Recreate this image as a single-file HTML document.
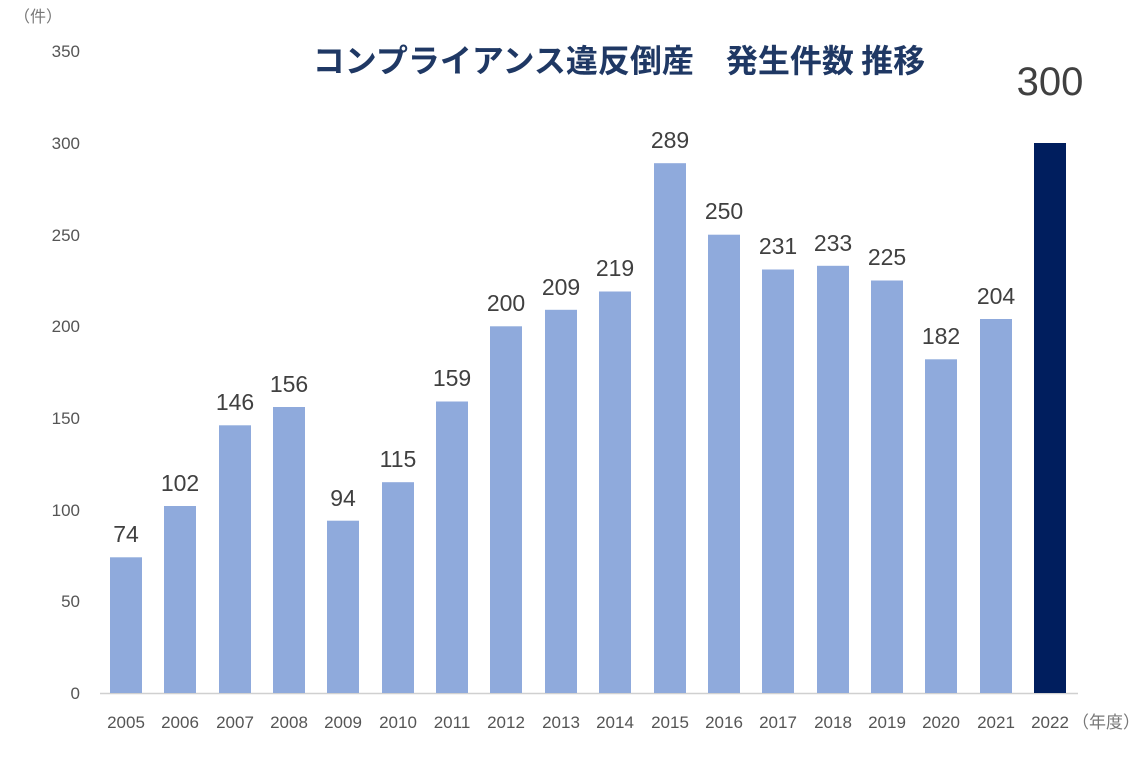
<!DOCTYPE html>
<html><head><meta charset="utf-8"><style>
html,body{margin:0;padding:0;background:#fff;}
svg{display:block;font-family:"Liberation Sans","Noto Sans CJK JP",sans-serif;}
</style></head><body>
<svg width="1148" height="758" viewBox="0 0 1148 758" xmlns="http://www.w3.org/2000/svg">
<text x="14" y="22" font-size="16" fill="#777">（件）</text>
<text x="619" y="72" font-size="32" font-weight="bold" fill="#1f3864" text-anchor="middle" font-family="Noto Sans CJK JP, sans-serif">コンプライアンス違反倒産　発生件数 推移</text>
<g font-size="17" fill="#555" text-anchor="end">
<text x="80" y="699">0</text>
<text x="80" y="607">50</text>
<text x="80" y="516">100</text>
<text x="80" y="424">150</text>
<text x="80" y="332">200</text>
<text x="80" y="241">250</text>
<text x="80" y="149">300</text>
<text x="80" y="57">350</text>
</g>
<line x1="100" y1="693.5" x2="1078" y2="693.5" stroke="#d0d0d0" stroke-width="1.5"/>
<g fill="#8faadc">
<rect x="110" y="557.3" width="32" height="135.7"/>
<rect x="164" y="506" width="32" height="187"/>
<rect x="219" y="425.3" width="32" height="267.7"/>
<rect x="273" y="407" width="32" height="286"/>
<rect x="327" y="520.7" width="32" height="172.3"/>
<rect x="382" y="482.2" width="32" height="210.8"/>
<rect x="436" y="401.5" width="32" height="291.5"/>
<rect x="490" y="326.3" width="32" height="366.7"/>
<rect x="545" y="309.8" width="32" height="383.2"/>
<rect x="599" y="291.5" width="32" height="401.5"/>
<rect x="654" y="163.2" width="32" height="529.8"/>
<rect x="708" y="234.7" width="32" height="458.3"/>
<rect x="762" y="269.5" width="32" height="423.5"/>
<rect x="817" y="265.8" width="32" height="427.2"/>
<rect x="871" y="280.5" width="32" height="412.5"/>
<rect x="925" y="359.3" width="32" height="333.7"/>
<rect x="980" y="319" width="32" height="374"/>
</g>
<rect x="1034" y="143" width="32" height="550" fill="#001e5e"/>
<g font-size="23" fill="#404040" text-anchor="middle">
<text x="126" y="542">74</text>
<text x="180" y="491">102</text>
<text x="235" y="410">146</text>
<text x="289" y="392">156</text>
<text x="343" y="506">94</text>
<text x="398" y="467">115</text>
<text x="452" y="386">159</text>
<text x="506" y="311">200</text>
<text x="561" y="295">209</text>
<text x="615" y="276">219</text>
<text x="670" y="148">289</text>
<text x="724" y="219">250</text>
<text x="778" y="254">231</text>
<text x="833" y="251">233</text>
<text x="887" y="265">225</text>
<text x="941" y="344">182</text>
<text x="996" y="304">204</text>
<text x="1050" y="95" font-size="40">300</text>
</g>
<g font-size="17" fill="#555" text-anchor="middle">
<text x="126" y="728">2005</text>
<text x="180" y="728">2006</text>
<text x="235" y="728">2007</text>
<text x="289" y="728">2008</text>
<text x="343" y="728">2009</text>
<text x="398" y="728">2010</text>
<text x="452" y="728">2011</text>
<text x="506" y="728">2012</text>
<text x="561" y="728">2013</text>
<text x="615" y="728">2014</text>
<text x="670" y="728">2015</text>
<text x="724" y="728">2016</text>
<text x="778" y="728">2017</text>
<text x="833" y="728">2018</text>
<text x="887" y="728">2019</text>
<text x="941" y="728">2020</text>
<text x="996" y="728">2021</text>
<text x="1050" y="728">2022</text>
</g>
<text x="1072" y="728" font-size="17" fill="#777">（年度）</text>
</svg>
</body></html>
